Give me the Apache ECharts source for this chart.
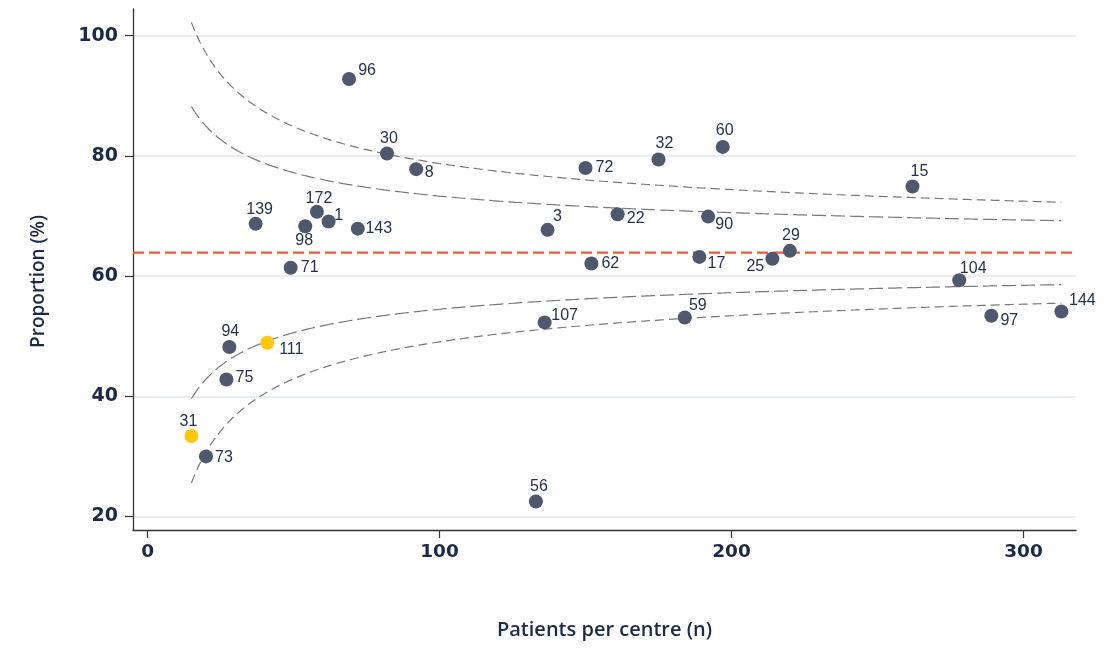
<!DOCTYPE html>
<html>
<head>
<meta charset="utf-8">
<title>Funnel plot – proportion by centre</title>
<script src="https://cdn.jsdelivr.net/npm/echarts@6/dist/echarts.min.js"></script>
<style>
  html, body { margin: 0; padding: 0; background: #ffffff; }
  #chart { width: 1109px; height: 648px; }
</style>
</head>
<body>
<div id="chart"></div>
<script>
// Centre identifiers, patients per centre (n) and observed proportion (%)
const centreIds  = [96, 30, 8, 139, 172, 1, 98, 143, 71, 94, 111, 75, 31, 73,
                    72, 32, 60, 3, 22, 90, 62, 17, 25, 29, 107, 59, 56, 15, 104, 97, 144];
const patients   = [69, 82, 92, 37, 58, 62, 54, 72, 49, 28, 41, 27, 15, 20,
                    150, 175, 197, 137, 161, 192, 152, 189, 214, 220, 136, 184, 133, 262, 278, 289, 313];
const proportion = [92.8, 80.4, 77.8, 68.7, 70.7, 69.1, 68.3, 67.9, 61.4, 48.2, 48.9, 42.8, 33.4, 30.0,
                    78.0, 79.4, 81.5, 67.7, 70.3, 69.9, 62.1, 63.2, 62.9, 64.2, 52.3, 53.1, 22.5, 74.9, 59.3, 53.4, 54.1];
// Centres drawn in the highlight colour
const highlightedCentres = [31, 111];

// Overall proportion (%) and the z-values of the two control-limit pairs
const overallProportion = 63.9;
const zInner = 1.96;   // 95% limits
const zOuter = 3.09;   // 99.8% limits

// Axis ranges and tick values
const xRange = [-5, 318];
const yRange = [17.75, 104.45];
const xTicks = [0, 100, 200, 300];
const yTicks = [20, 40, 60, 80, 100];

// Label placement around each marker (label centre relative to marker centre, px)
const labelShift = {
  96: [18, -8], 30: [2, -15], 8: [13, 3], 139: [4, -14], 172: [2, -13], 1: [10, -6],
  98: [-1, 14], 143: [21, 0], 71: [19, 0], 94: [1, -15], 111: [24, 7], 75: [18, -2],
  31: [-3, -14], 73: [18, 1], 72: [19, 0], 32: [6, -16], 60: [2, -16], 3: [10, -13],
  22: [18, 4], 90: [16, 8], 62: [19, 0], 17: [17, 7], 25: [-17, 8], 29: [1, -15],
  107: [20, -7], 59: [13, -12], 56: [3, -15], 15: [7, -15], 104: [14, -12],
  97: [18, 5], 144: [21, -11]
};

// Binomial control limits around the overall proportion, from the smallest to the largest centre
function controlLimit(z, sign) {
  const p = overallProportion / 100;
  const nMin = Math.min(...patients), nMax = Math.max(...patients);
  const pts = [];
  for (let n = nMin; n <= nMax; n += 1) {
    pts.push([n, 100 * (p + sign * z * Math.sqrt(p * (1 - p) / n))]);
  }
  return pts;
}

const pointColour = '#4f586d';
const highlightColour = '#fdc80a';
const textColour = '#1c2a49';
const labelFont = '"Liberation Sans", Arial, Helvetica, sans-serif';

const points = centreIds.map((id, i) => ({
  value: [patients[i], proportion[i]],
  name: String(id),
  itemStyle: { color: highlightedCentres.includes(id) ? highlightColour : pointColour, opacity: 1 },
  label: { offset: labelShift[id] || [16, 0] }
}));

function limitSeries(z, sign, dash) {
  return {
    type: 'line',
    data: controlLimit(z, sign),
    showSymbol: false,
    silent: true,
    z: 2,
    lineStyle: { color: '#787878', width: 1.2, type: dash }
  };
}

const chart = echarts.init(document.getElementById('chart'), null, { renderer: 'canvas' });

chart.setOption({
  animation: false,
  backgroundColor: '#ffffff',
  grid: { left: 133, right: 33, top: 9, bottom: 118, containLabel: false },
  xAxis: {
    type: 'value',
    min: xRange[0],
    max: xRange[1],
    name: 'Patients per centre (n)',
    nameLocation: 'middle',
    nameGap: 90,
    nameTextStyle: { color: textColour, fontFamily: '"Open Sans", sans-serif', fontWeight: 600, fontSize: 20 },
    axisLine: { show: true, onZero: false, lineStyle: { color: '#333333', width: 1.3 } },
    axisTick: { show: true, length: 8, customValues: xTicks, lineStyle: { color: '#333333', width: 1.2 } },
    axisLabel: { customValues: xTicks, margin: 13, color: textColour,
                 fontFamily: '"DejaVu Sans", sans-serif', fontWeight: 'bold', fontSize: 18.5 },
    splitLine: { show: false }
  },
  yAxis: {
    type: 'value',
    min: yRange[0],
    max: yRange[1],
    name: 'Proportion (%)',
    nameLocation: 'middle',
    nameGap: 85,
    nameTextStyle: { color: textColour, fontFamily: '"Open Sans", sans-serif', fontWeight: 600, fontSize: 19,
                     padding: [0, 0, 0, -24] },
    axisLine: { show: true, onZero: false, lineStyle: { color: '#333333', width: 1.3 } },
    axisTick: { show: true, length: 8, customValues: yTicks, lineStyle: { color: '#333333', width: 1.2 } },
    axisLabel: { customValues: yTicks, margin: 15, color: textColour,
                 fontFamily: '"DejaVu Sans", sans-serif', fontWeight: 'bold', fontSize: 19 },
    splitLine: { show: true, lineStyle: { color: '#e8eff3', width: 2 } }
  },
  series: [
    limitSeries(zOuter, 1, [9, 5]),
    limitSeries(zInner, 1, [14, 5]),
    limitSeries(zInner, -1, [14, 5]),
    limitSeries(zOuter, -1, [9, 5]),
    // Overall proportion, across the full width of the plot
    {
      type: 'line',
      data: [[xRange[0], overallProportion], [xRange[1], overallProportion]],
      showSymbol: false,
      silent: true,
      z: 3,
      lineStyle: { color: '#f05a38', width: 2.2, type: [11, 5] }
    },
    {
      type: 'scatter',
      data: points,
      symbol: 'circle',
      symbolSize: 14,
      z: 5,
      label: {
        show: true,
        position: 'inside',
        formatter: '{b}',
        color: '#26324d',
        textBorderWidth: 0,
        fontFamily: labelFont,
        fontSize: 16
      }
    }
  ]
});
</script>
</body>
</html>
